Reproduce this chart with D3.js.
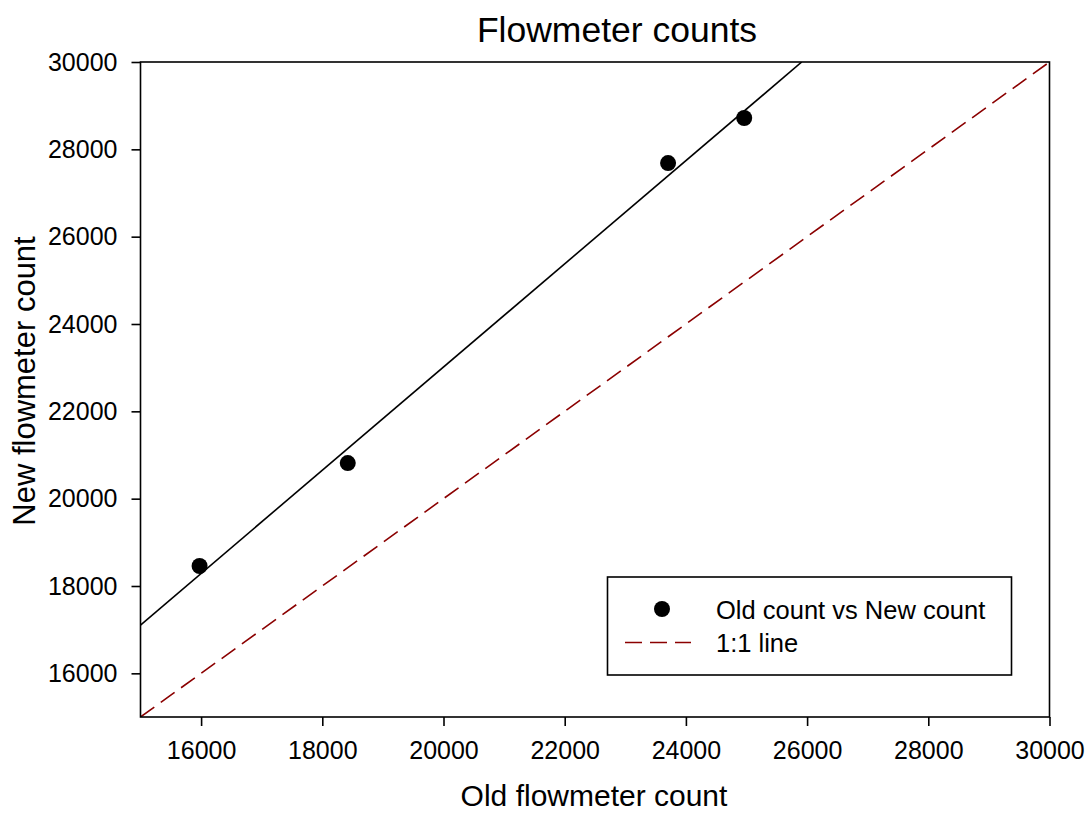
<!DOCTYPE html>
<html><head><meta charset="utf-8">
<script src="https://cdn.jsdelivr.net/npm/d3@7"></script>
<style>body{margin:0;background:#fff}svg{display:block}text{font-family:"Liberation Sans",Arial,sans-serif}</style>
</head><body>
<script>
const oldCounts = [15975, 18420, 23706, 24962];
const newCounts = [18458, 20816, 27686, 28717];
const xTicks = [16000, 18000, 20000, 22000, 24000, 26000, 28000, 30000];
const yTicks = [16000, 18000, 20000, 22000, 24000, 26000, 28000, 30000];
const domainMin = 15000, domainMax = 30000;

const W = 1090, H = 813;
const m = {left: 140.5, right: 1049.5, top: 62, bottom: 717};
const svg = d3.select("body").append("svg").attr("width", W).attr("height", H);
const x = d3.scaleLinear().domain([domainMin, domainMax]).range([m.left, m.right]);
const y = d3.scaleLinear().domain([domainMin, domainMax]).range([m.bottom, m.top]);

// regression fit
const n = oldCounts.length;
const mx = d3.mean(oldCounts), my = d3.mean(newCounts);
let sxy = 0, sxx = 0;
for (let i = 0; i < n; i++) { sxy += (oldCounts[i]-mx)*(newCounts[i]-my); sxx += (oldCounts[i]-mx)**2; }
const slope = sxy/sxx, icpt = my - slope*mx;

const defs = svg.append("defs");
defs.append("clipPath").attr("id","clip").append("rect")
  .attr("x", m.left).attr("y", m.top).attr("width", m.right-m.left).attr("height", m.bottom-m.top);

const g = svg.append("g").attr("clip-path","url(#clip)");
g.append("line").attr("x1", x(domainMin)).attr("y1", y(domainMin)).attr("x2", x(domainMax)).attr("y2", y(domainMax))
  .attr("stroke", "#8b0000").attr("stroke-width", 1.6).attr("stroke-dasharray", "17,8");
const xEnd = (domainMax - icpt)/slope;
g.append("line").attr("x1", x(domainMin)).attr("y1", y(slope*domainMin+icpt)).attr("x2", x(xEnd)).attr("y2", y(domainMax))
  .attr("stroke", "#000").attr("stroke-width", 1.6);

svg.append("g").selectAll("circle").data(oldCounts).join("circle")
  .attr("cx", d => x(d)).attr("cy", (d,i) => y(newCounts[i])).attr("r", 8).attr("fill", "#000");

svg.append("rect").attr("x", m.left).attr("y", m.top).attr("width", m.right-m.left).attr("height", m.bottom-m.top)
  .attr("fill","none").attr("stroke","#000").attr("stroke-width",1.6);

const xa = svg.append("g").attr("transform", `translate(0,${m.bottom})`)
  .call(d3.axisBottom(x).tickValues(xTicks).tickSize(9).tickPadding(15).tickFormat(d3.format("d")));
const ya = svg.append("g").attr("transform", `translate(${m.left},0)`)
  .call(d3.axisLeft(y).tickValues(yTicks).tickSize(9).tickPadding(14).tickFormat(d3.format("d")));
[xa, ya].forEach(a => {
  a.attr("font-size", null).attr("font-family", null);
  a.select(".domain").remove();
  a.selectAll(".tick line").attr("stroke","#000").attr("stroke-width",1.6);
  a.selectAll(".tick text").attr("fill","#000").style("font-size","25px").style("font-family","Liberation Sans, Arial, sans-serif");
});

svg.append("text").attr("x", 617).attr("y", 42).attr("text-anchor","middle").style("font-size","35.5px").text("Flowmeter counts");
svg.append("text").attr("x", 594).attr("y", 806).attr("text-anchor","middle").style("font-size","30px").text("Old flowmeter count");
svg.append("text").attr("transform","translate(35,381) rotate(-90)").attr("text-anchor","middle").style("font-size","31px").text("New flowmeter count");

const lg = svg.append("g");
lg.append("rect").attr("x", 607.5).attr("y", 577).attr("width", 404).attr("height", 98)
  .attr("fill","#fff").attr("stroke","#000").attr("stroke-width",1.6);
lg.append("circle").attr("cx", 662).attr("cy", 609).attr("r", 8).attr("fill","#000");
lg.append("line").attr("x1", 625).attr("x2", 691).attr("y1", 642.5).attr("y2", 642.5)
  .attr("stroke","#8b0000").attr("stroke-width",1.6).attr("stroke-dasharray","17,8");
lg.append("text").attr("x", 716).attr("y", 619).style("font-size","25.5px").text("Old count vs New count");
lg.append("text").attr("x", 716).attr("y", 652).style("font-size","25.5px").text("1:1 line");
</script>
</body></html>
